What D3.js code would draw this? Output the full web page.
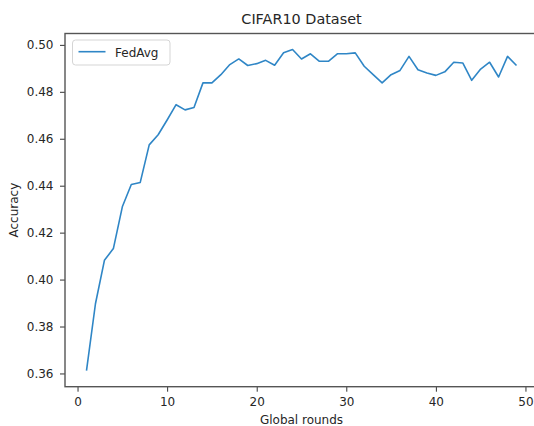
<!DOCTYPE html>
<html>
<head>
<meta charset="utf-8">
<script src="https://cdn.jsdelivr.net/npm/d3@7"></script>
<style>
  body { margin: 0; background: #fff; }
  text { font-family: "DejaVu Sans", sans-serif; fill: #262626; }
</style>
</head>
<body>
<div id="chart"></div>
<script>
// data
const rounds = d3.range(1, 50);
const fedAvg = [
  0.3612, 0.3897, 0.4082, 0.4132, 0.4310, 0.4405, 0.4414, 0.4574, 0.4617, 0.4680,
  0.4745, 0.4723, 0.4733, 0.4838, 0.4838, 0.4873, 0.4916, 0.4940, 0.4912, 0.4920,
  0.4934, 0.4913, 0.4966, 0.4980, 0.4940, 0.4962, 0.4930, 0.4930, 0.4962, 0.4962,
  0.4966, 0.4909, 0.4873, 0.4838, 0.4873, 0.4891, 0.4951, 0.4894, 0.4880, 0.4870,
  0.4885, 0.4926, 0.4923, 0.4849, 0.4897, 0.4926, 0.4863, 0.4951, 0.4912
];
const xTicks = [0, 10, 20, 30, 40, 50];
const yTicks = [0.36, 0.38, 0.40, 0.42, 0.44, 0.46, 0.48, 0.50];

const data = rounds.map((r, i) => ({ round: r, acc: fedAvg[i] }));

const W = 534, H = 426;
// plot box runs a little past the right edge of the picture
const margin = { top: 33.5, right: -4, bottom: 39.3, left: 65 };
const width = W - margin.left - margin.right,
  height = H - margin.top - margin.bottom;

const svg = d3.select("#chart")
  .append("svg")
  .attr("width", W)
  .attr("height", H);

svg.append("rect").attr("width", W).attr("height", H).attr("fill", "#fff");

const g = svg.append("g")
  .attr("transform", "translate(" + margin.left + "," + margin.top + ")");

// matplotlib style 5% margins
const xExt = d3.extent(rounds), xPad = (xExt[1] - xExt[0]) * 0.05;
const yExt = d3.extent(fedAvg), yPad = (yExt[1] - yExt[0]) * 0.05;

const x = d3.scaleLinear()
  .domain([xExt[0] - xPad, xExt[1] + xPad])
  .range([0, width]);

const y = d3.scaleLinear()
  .domain([yExt[0] - yPad, yExt[1] + yPad])
  .range([height, 0]);

// axes
const xAxis = g.append("g")
  .attr("transform", "translate(0," + height + ")")
  .call(d3.axisBottom(x).tickValues(xTicks).tickSize(5).tickPadding(6).tickSizeOuter(0));

const yAxis = g.append("g")
  .call(d3.axisLeft(y).tickValues(yTicks).tickFormat(d3.format(".2f")).tickSize(5).tickPadding(6.5).tickSizeOuter(0));

[xAxis, yAxis].forEach(a => {
  a.selectAll("text").style("font-size", "12px").attr("fill", "#262626");
  a.selectAll(".tick line").attr("stroke", "#333").attr("stroke-width", 1);
  a.select(".domain").remove();
});

// spines
g.append("rect")
  .attr("width", width)
  .attr("height", height)
  .attr("fill", "none")
  .attr("stroke", "#555")
  .attr("stroke-width", 1.4);

// line
g.append("path")
  .datum(data)
  .attr("fill", "none")
  .attr("stroke", "#2f86c6")
  .attr("stroke-width", 1.6)
  .attr("stroke-linejoin", "round")
  .attr("d", d3.line()
    .x(function (d) { return x(d.round); })
    .y(function (d) { return y(d.acc); }));

// legend
const leg = g.append("g").attr("transform", "translate(7.5,6.5)");
leg.append("rect")
  .attr("width", 97.5)
  .attr("height", 25)
  .attr("rx", 3)
  .attr("fill", "#fff")
  .attr("fill-opacity", 0.8)
  .attr("stroke", "#d5d5d5")
  .attr("stroke-width", 1);
leg.append("line")
  .attr("x1", 6).attr("x2", 33)
  .attr("y1", 11.7).attr("y2", 11.7)
  .attr("stroke", "#2f86c6")
  .attr("stroke-width", 1.6);
leg.append("text")
  .attr("x", 42.5)
  .attr("y", 16.5)
  .style("font-size", "12px")
  .text("FedAvg");

// title and labels
const cx = margin.left + width / 2;
svg.append("text")
  .attr("x", cx)
  .attr("y", 23.5)
  .attr("text-anchor", "middle")
  .style("font-size", "14.4px")
  .text("CIFAR10 Dataset");

svg.append("text")
  .attr("x", cx)
  .attr("y", 424)
  .attr("text-anchor", "middle")
  .style("font-size", "12px")
  .text("Global rounds");

svg.append("text")
  .attr("transform", "translate(18," + (margin.top + height / 2) + ") rotate(-90)")
  .attr("text-anchor", "middle")
  .style("font-size", "12px")
  .text("Accuracy");
</script>
</body>
</html>
